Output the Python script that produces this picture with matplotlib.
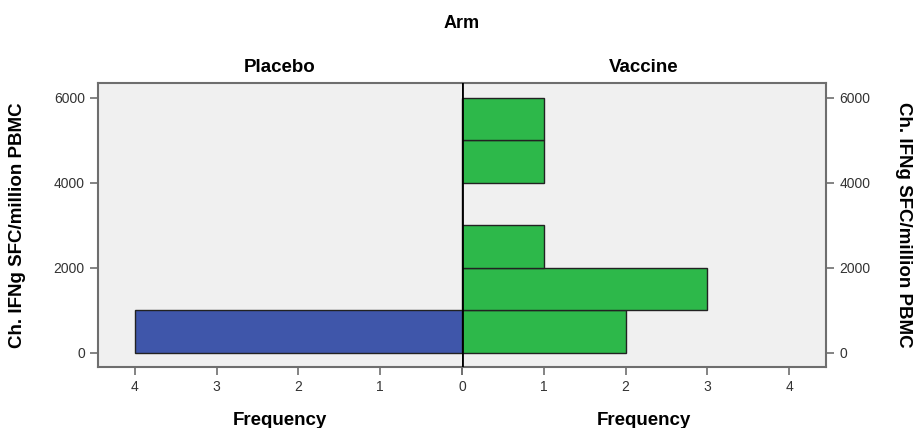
import matplotlib.pyplot as plt

plt.rcParams['font.family'] = ['Liberation Sans', 'DejaVu Sans']

# histogram bins (lower edges), width 1000
bin_edges = [0, 1000, 2000, 3000, 4000, 5000]
placebo_counts = [4, 0, 0, 0, 0, 0]
vaccine_counts = [2, 3, 1, 0, 1, 1]
freq_ticks = [0, 1, 2, 3, 4]
y_ticks = [0, 2000, 4000, 6000]
bin_width = 1000

W, H = 915, 428
fig = plt.figure(figsize=(W / 100, H / 100), dpi=100)

left, right, top, bottom, mid = 98, 826, 83, 367, 462
ax_l = fig.add_axes([left / W, 1 - bottom / H, (mid - left) / W, (bottom - top) / H])
ax_r = fig.add_axes([mid / W, 1 - bottom / H, (right - mid) / W, (bottom - top) / H])

edge = '#6e6e6e'
for ax in (ax_l, ax_r):
    ax.set_facecolor('#f0f0f0')
    ax.set_ylim(-330, 6350)
    ax.set_xlim(0, 4.45)
    ax.set_xticks(freq_ticks)
    ax.set_yticks(y_ticks)
    ax.tick_params(colors='#333333', labelsize=10, length=6, width=1.2, direction='out')
    ax.tick_params(axis='both', color=edge)
    for s in ax.spines.values():
        s.set_color(edge)
        s.set_linewidth(1.5)
    ax.set_xlabel('Frequency', fontsize=13.5, fontweight='bold', labelpad=13)

ax_l.invert_xaxis()
ax_l.set_xticklabels([''] + [str(t) for t in freq_ticks[1:]])
ax_l.spines['right'].set_visible(False)
ax_r.spines['left'].set_visible(False)

ax_l.barh(bin_edges, placebo_counts, height=bin_width, align='edge',
          color='#3f56aa', edgecolor='#222222', linewidth=1)
ax_r.barh(bin_edges, vaccine_counts, height=bin_width, align='edge',
          color='#2db84a', edgecolor='#222222', linewidth=1)

ax_r.yaxis.tick_right()
ax_r.yaxis.set_label_position('right')
ax_l.set_ylabel('Ch. IFNg SFC/million PBMC', fontsize=13.5, fontweight='bold', labelpad=20)
ax_r.set_ylabel('Ch. IFNg SFC/million PBMC', fontsize=13.5, fontweight='bold',
                rotation=-90, labelpad=30)

ax_r.axvline(0, color='black', linewidth=2, zorder=5)

ax_l.set_title('Placebo', fontsize=13.5, fontweight='bold', pad=8)
ax_r.set_title('Vaccine', fontsize=13.5, fontweight='bold', pad=8)
fig.text(mid / W, 1 - 24 / H, 'Arm', ha='center', va='center',
         fontsize=13, fontweight='bold')

fig.savefig('out.png', dpi=100)
